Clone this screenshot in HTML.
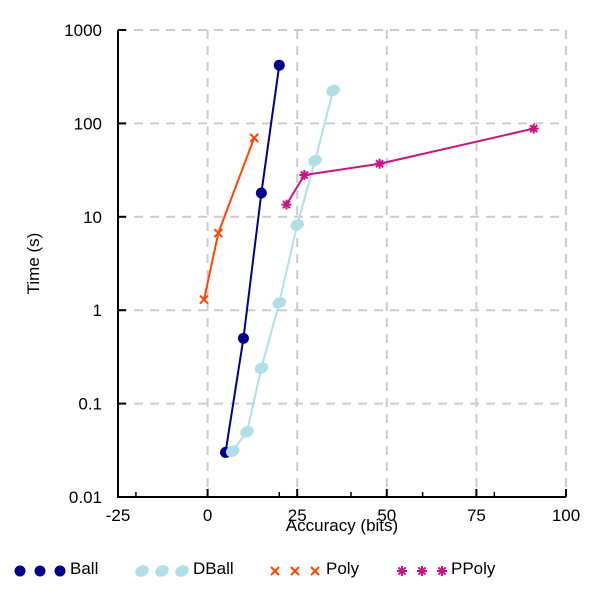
<!DOCTYPE html>
<html><head><meta charset="utf-8"><style>
body{margin:0;background:#fff;}
svg text{font-family:"Liberation Sans",sans-serif;font-size:17px;fill:#000;}
</style></head><body>
<svg id="c" width="600" height="600"></svg>
<script>
const xTicks=[-25,0,25,50,75,100];
const xMinor=[-20,20,40,60,80];
const yTicks=[0.01,0.1,1,10,100,1000];
const yTickLabels=["0.01","0.1","1","10","100","1000"];
const ballX=[5,10,15,20];
const ballY=[0.03,0.5,18,420];
const dballX=[7,11,15,20,25,30,35];
const dballY=[0.031,0.05,0.24,1.2,8.2,40,225];
const polyX=[-1,3,13];
const polyY=[1.3,6.7,70];
const ppolyX=[22,27,48,91];
const ppolyY=[13.5,28,37,88];

const NS="http://www.w3.org/2000/svg";
const svg=document.getElementById('c');
const L=118,R=566,T=30,B=497;
const sx=v=>L+(v+25)/125*(R-L);
const sy=v=>B-(Math.log10(v)+2)/5*(B-T);
function mk(tag,attrs,parent){const e=document.createElementNS(NS,tag);for(const k in attrs)e.setAttribute(k,attrs[k]);(parent||svg).appendChild(e);return e;}

xTicks.forEach(v=>{if(v>-25){
const g=mk('line',{x1:sx(v),x2:sx(v),y1:T,y2:B,stroke:'#ccc','stroke-width':2,'stroke-dasharray':'9,7'});

}});
yTicks.forEach(v=>{if(v>0.01){
const g=mk('line',{x1:L,x2:R,y1:sy(v),y2:sy(v),stroke:'#ccc','stroke-width':2,'stroke-dasharray':'9,7'});

}});
const ax=mk('path',{d:`M${L},${T}V${B}H${R}`,fill:'none',stroke:'#000','stroke-width':2});


xTicks.forEach(v=>{
mk('line',{x1:sx(v),x2:sx(v),y1:B,y2:B-8,stroke:'#000','stroke-width':2});
const t=mk('text',{x:sx(v),y:B+24,'text-anchor':'middle'});t.textContent=v;

});
xMinor.forEach(v=>mk('line',{x1:sx(v),x2:sx(v),y1:B,y2:B-5,stroke:'#000','stroke-width':1.5}));
yTicks.forEach((v,i)=>{
mk('line',{x1:L,x2:L+8,y1:sy(v),y2:sy(v),stroke:'#000','stroke-width':2});
const t=mk('text',{x:L-16,y:sy(v)+6,'text-anchor':'end'});t.textContent=yTickLabels[i];

});
let t=mk('text',{x:342,y:531,'text-anchor':'middle'});t.textContent='Accuracy (bits)';


t=mk('text',{x:0,y:0,'text-anchor':'middle',transform:`translate(39,${(T+B)/2}) rotate(-90)`});t.textContent='Time (s)';



function marker(type,x,y,col,g){
if(type==='dot')mk('circle',{cx:x,cy:y,r:5.5,fill:col},g);
else if(type==='ell')mk('ellipse',{cx:x,cy:y,rx:7,ry:5.5,fill:col,transform:`rotate(-25 ${x} ${y})`},g);
else if(type==='x'){mk('path',{d:`M${x-4},${y-4}L${x+4},${y+4}M${x-4},${y+4}L${x+4},${y-4}`,stroke:col,'stroke-width':2},g);}
else{let d='';for(let a=0;a<4;a++){const r=a*Math.PI/4;d+=`M${x-5*Math.cos(r)},${y-5*Math.sin(r)}L${x+5*Math.cos(r)},${y+5*Math.sin(r)}`;}mk('path',{d,stroke:col,'stroke-width':2},g);}
}
function series(xs,ys,col,type,name){
const g=mk('g',{});


mk('polyline',{points:xs.map((x,i)=>sx(x)+','+sy(ys[i])).join(' '),fill:'none',stroke:col,'stroke-width':2},g);
xs.forEach((x,i)=>marker(type,sx(x),sy(ys[i]),col,g));
}
series(ballX,ballY,'#00008b','dot','ball');
series(dballX,dballY,'#b0e0e6','ell','dball');
series(polyX,polyY,'#ff4500','x','poly');
series(ppolyX,ppolyY,'#c71585','star','ppoly');

const leg=[['Ball','#00008b','dot',20,70],['DBall','#b0e0e6','ell',142,193],['Poly','#ff4500','x',275,326],['PPoly','#c71585','star',402,451]];
leg.forEach(([n,c,ty,x0,tx])=>{
const g=mk('g',{});


for(let k=0;k<3;k++)marker(ty,x0+k*20,571,c,g);
const tt=mk('text',{x:tx,y:574},g);tt.textContent=n;
});
</script>
</body></html>
